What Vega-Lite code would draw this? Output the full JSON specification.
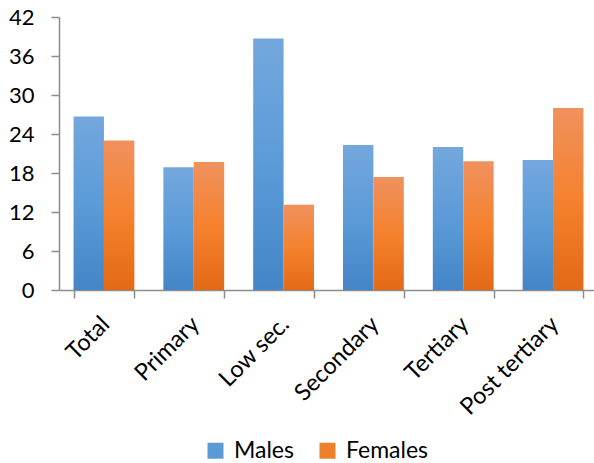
{
  "$schema": "https://vega.github.io/schema/vega-lite/v6.json",
  "autosize": "none",
  "width": 539,
  "height": 273,
  "padding": {"left": 59, "top": 17, "right": 0, "bottom": 173},
  "config": {
    "view": {"stroke": null},
    "font": "Lato",
    "axis": {"labelFont": "Lato", "labelColor": "#000000", "domainColor": "#8c8c8c", "tickColor": "#8c8c8c", "domainWidth": 1.5, "tickWidth": 1.5}
  },
  "data": {
    "values": [
      {"level": "Total", "sex": "Males", "value": 26.7},
      {"level": "Total", "sex": "Females", "value": 23.0},
      {"level": "Primary", "sex": "Males", "value": 18.9},
      {"level": "Primary", "sex": "Females", "value": 19.7},
      {"level": "Low sec.", "sex": "Males", "value": 38.7},
      {"level": "Low sec.", "sex": "Females", "value": 13.1},
      {"level": "Secondary", "sex": "Males", "value": 22.3},
      {"level": "Secondary", "sex": "Females", "value": 17.4},
      {"level": "Tertiary", "sex": "Males", "value": 22.0},
      {"level": "Tertiary", "sex": "Females", "value": 19.8},
      {"level": "Post tertiary", "sex": "Males", "value": 20.0},
      {"level": "Post tertiary", "sex": "Females", "value": 28.0}
    ]
  },
  "mark": {"type": "bar"},
  "encoding": {
    "x": {
      "field": "level", "type": "nominal", "sort": null, "title": null,
      "scale": {"paddingInner": 0.323, "paddingOuter": 0.162},
      "axis": {"labelAngle": -45, "labelFontSize": 23.5, "tickBand": "extent", "tickSize": 8, "labelPadding": 14, "labelOffset": -7}
    },
    "xOffset": {"field": "sex", "type": "nominal", "sort": ["Males", "Females"], "scale": {"domain": ["Males", "Females"], "paddingInner": 0, "paddingOuter": 0}},
    "y": {
      "field": "value", "type": "quantitative", "title": null,
      "scale": {"domain": [0, 42]},
      "axis": {"values": [0, 6, 12, 18, 24, 30, 36, 42], "grid": false, "labelFontSize": 22, "tickSize": 8, "labelPadding": 17}
    },
    "fill": {
      "field": "sex", "type": "nominal", "sort": ["Males", "Females"], "title": null,
      "scale": {"domain": ["Males", "Females"], "range": ["#5b9bd5", "#f07f2b"]},
      "condition": [
        {"test": "datum.sex === 'Males'", "value": {"gradient": "linear", "x1": 0, "y1": 0, "x2": 0, "y2": 1, "stops": [{"offset": 0, "color": "#74a7dd"}, {"offset": 0.5, "color": "#5b9bd8"}, {"offset": 1, "color": "#4385c6"}]}},
        {"test": "datum.sex === 'Females'", "value": {"gradient": "linear", "x1": 0, "y1": 0, "x2": 0, "y2": 1, "stops": [{"offset": 0, "color": "#f0915e"}, {"offset": 0.5, "color": "#f5822e"}, {"offset": 1, "color": "#e36915"}]}}
      ],
      "legend": {"orient": "none", "legendX": 145, "legendY": 422, "direction": "horizontal", "symbolType": "square", "symbolSize": 256, "symbolStrokeWidth": 0, "labelFontSize": 23, "labelFont": "Lato", "labelColor": "#000000", "columnPadding": 22, "labelOffset": 7, "padding": 0}
    }
  }
}
